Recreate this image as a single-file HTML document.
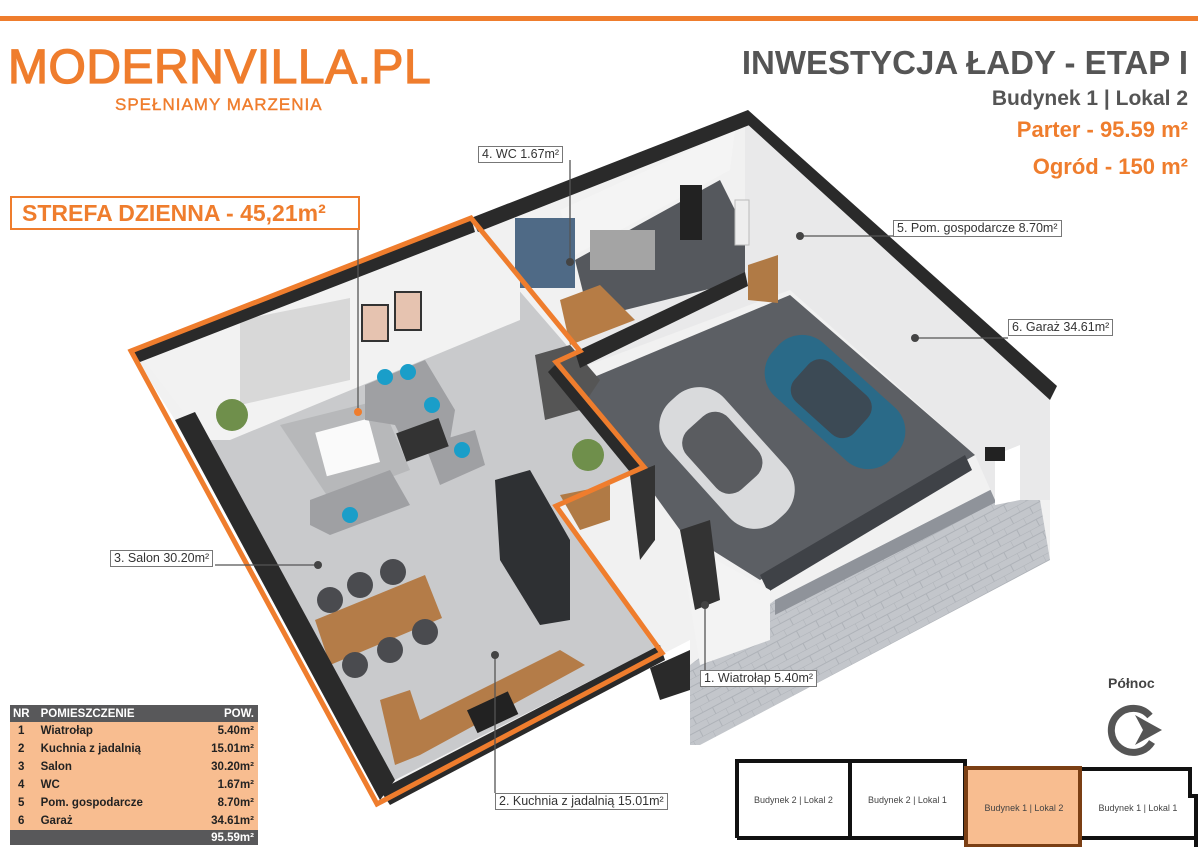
<!DOCTYPE html>
<html><head><meta charset="utf-8">
<style>
body{margin:0;width:1198px;height:847px;background:#fff;overflow:hidden;position:relative;font-family:"Liberation Sans",sans-serif}
.a{position:absolute;white-space:nowrap}
.lbl{position:absolute;border:1px solid #777;background:#fff;font-size:12.5px;color:#333;padding:0 3px;line-height:15px;white-space:nowrap}
table{border-collapse:collapse}
</style></head><body>
<div class="a" style="left:0;top:16px;width:1198px;height:5px;background:#ef7d2d"></div>
<div class="a" style="left:8px;top:40px;font-size:48px;color:#ef7d2d;letter-spacing:0.5px;-webkit-text-stroke:1.3px #ef7d2d">MODERNVILLA.PL</div>
<div class="a" style="left:115px;top:95px;font-size:17px;color:#ef7d2d;letter-spacing:1px;-webkit-text-stroke:0.4px #ef7d2d">SPEŁNIAMY MARZENIA</div>
<div class="a" style="right:10px;top:44px;font-size:33px;color:#555;font-weight:bold">INWESTYCJA ŁADY - ETAP I</div>
<div class="a" style="right:10px;top:87px;font-size:21px;color:#555;font-weight:bold">Budynek 1 | Lokal 2</div>
<div class="a" style="right:10px;top:117px;font-size:22px;color:#ef7d2d;font-weight:bold">Parter - 95.59 m²</div>
<div class="a" style="right:10px;top:154px;font-size:22px;color:#ef7d2d;font-weight:bold">Ogród - 150 m²</div>

<svg class="a" style="left:0;top:0" width="1198" height="847">
<defs><pattern id="pv" width="22" height="14" patternUnits="userSpaceOnUse" patternTransform="rotate(-28)"><rect width="22" height="14" fill="#c3c6cb"/><path d="M0,0H22M0,7H22M0,0V7M11,7V14" stroke="#aeb2b8" stroke-width="1"/></pattern></defs>
<polygon points="175,420 380,800 690,640 690,745 1050,560 1050,390 748,110 471,218 131,351" fill="#f1f1f1"/>
<polygon points="690,745 690,665 775,600 1000,485 1040,500 1050,560 700,745" fill="url(#pv)"/>
<polygon points="775,600 1000,485 1000,500 775,615" fill="#8f939a"/>
<polygon points="745,118 1050,395 1050,500 995,500 975,455 790,290 575,370 560,350 745,230" fill="#e9e9ea"/>
<polygon points="575,385 790,295 975,455 760,580 680,530" fill="#5c5f64"/>
<polygon points="760,575 965,455 972,470 768,592" fill="#3f4247"/>
<polygon points="995,455 1020,445 1020,500 995,505" fill="#fff"/>
<rect x="985" y="447" width="20" height="14" fill="#222"/>
<polygon points="680,540 770,590 770,640 700,665" fill="#f3f3f3"/>
<polygon points="575,260 720,180 745,230 745,280 625,310 590,320" fill="#55585d"/>
<polygon points="575,255 730,170 735,130 560,210" fill="#f4f4f4"/>
<rect x="515" y="218" width="60" height="70" fill="#4f6a86"/>
<rect x="590" y="230" width="65" height="40" fill="#a4a4a4"/>
<rect x="680" y="185" width="22" height="55" fill="#222"/>
<rect x="735" y="200" width="14" height="45" fill="#eee" stroke="#bbb"/>
<polygon points="748,265 778,255 778,303 748,300" fill="#b07a45"/>
<polygon points="560,300 600,285 635,320 570,345" fill="#b67c45"/>
<polygon points="190,415 471,235 575,355 550,368 635,470 555,505 655,648 385,785" fill="#c9cacc"/>
<polygon points="140,355 471,228 520,280 520,320 230,440 205,440" fill="#f2f2f2"/>
<polygon points="240,320 350,298 350,380 240,405" fill="#d8d8d8"/>
<rect x="362" y="305" width="26" height="36" fill="#e6c3b0" stroke="#333" stroke-width="2"/>
<rect x="395" y="292" width="26" height="38" fill="#e6c3b0" stroke="#333" stroke-width="2"/>
<polygon points="280,425 380,400 410,470 330,500" fill="#b7b8ba"/>
<rect x="320" y="425" width="55" height="45" fill="#fafafa" transform="rotate(-15 347 447)"/>
<polygon points="365,385 425,360 455,410 450,440 410,455 395,425 365,420" fill="#9fa0a3"/>
<polygon points="425,445 475,430 485,465 440,485" fill="#9fa0a3"/>
<polygon points="310,500 390,470 410,505 330,535 310,525" fill="#9fa0a3"/>
<rect x="400" y="425" width="45" height="30" fill="#333" transform="rotate(-20 422 440)"/>
<circle cx="385" cy="377" r="8" fill="#1a9ec9"/><circle cx="408" cy="372" r="8" fill="#1a9ec9"/><circle cx="432" cy="405" r="8" fill="#1a9ec9"/><circle cx="462" cy="450" r="8" fill="#1a9ec9"/><circle cx="350" cy="515" r="8" fill="#1a9ec9"/>
<polygon points="315,620 425,575 442,618 330,665" fill="#b47c48"/>
<g fill="#4a4b4f"><circle cx="330" cy="600" r="13"/><circle cx="360" cy="585" r="13"/><circle cx="393" cy="572" r="13"/><circle cx="355" cy="665" r="13"/><circle cx="390" cy="650" r="13"/><circle cx="425" cy="632" r="13"/></g>
<circle cx="232" cy="415" r="16" fill="#6f8f4b"/><circle cx="588" cy="455" r="16" fill="#6f8f4b"/>
<polygon points="495,480 530,470 570,540 570,620 540,625 500,560" fill="#2e3033"/>
<polygon points="380,700 410,690 420,720 560,650 585,665 420,755 395,765" fill="#b47c48"/>
<rect x="470" y="700" width="45" height="25" fill="#222" transform="rotate(-25 492 712)"/>
<polygon points="535,355 570,345 600,380 580,410 545,420" fill="#555"/>
<polygon points="560,495 610,485 610,520 580,530" fill="#b07a45"/>
<polygon points="630,475 655,465 655,540 640,560" fill="#333"/>
<polygon points="680,530 710,520 720,600 695,610" fill="#333"/>
<polygon points="131,351 471,218 475,232 140,362" fill="#2a2a2a"/>
<polygon points="471,218 748,110 752,124 478,232" fill="#2a2a2a"/>
<polygon points="748,110 1057,386 1050,400 745,122" fill="#2a2a2a"/>
<polygon points="175,420 195,412 395,780 380,800" fill="#2a2a2a"/>
<polygon points="380,790 660,645 665,660 390,805" fill="#2a2a2a"/>
<polygon points="575,352 745,272 748,286 580,368" fill="#2a2a2a"/>
<polygon points="555,365 640,465 630,472 548,372" fill="#2a2a2a"/>
<polygon points="650,668 690,650 690,690 660,700" fill="#2a2a2a"/>
<polygon points="131,351 471,218 580,351 556,362 644,467 556,506 662,653 377,804" fill="none" stroke="#ef7d2d" stroke-width="5"/>
<g transform="rotate(48 727 458)"><rect x="647" y="420" width="160" height="76" rx="34" fill="#d9dadc"/><rect x="680" y="430" width="80" height="56" rx="18" fill="#5a5c60"/></g>
<g transform="rotate(42 835 402)"><rect x="755" y="366" width="160" height="72" rx="32" fill="#2a6a88"/><rect x="790" y="376" width="80" height="52" rx="16" fill="#3c4a55"/></g>
<g stroke="#555" stroke-width="1.3" fill="none">
<line x1="570" y1="160" x2="570" y2="262"/><line x1="800" y1="236" x2="893" y2="236"/><line x1="915" y1="338" x2="1008" y2="338"/>
<line x1="215" y1="565" x2="318" y2="565"/><line x1="358" y1="228" x2="358" y2="412"/><line x1="495" y1="655" x2="495" y2="793"/>
<line x1="705" y1="605" x2="705" y2="670"/>
</g>
<g fill="#444"><circle cx="570" cy="262" r="4"/><circle cx="800" cy="236" r="4"/><circle cx="915" cy="338" r="4"/><circle cx="318" cy="565" r="4"/><circle cx="358" cy="412" r="4" fill="#ef7d2d"/><circle cx="495" cy="655" r="4"/><circle cx="705" cy="605" r="4"/></g>
<path d="M1150,716 A22,22 0 1 0 1152,742" fill="none" stroke="#555" stroke-width="7"/>
<polygon points="1135,715 1162,730 1135,745 1143,730" fill="#555"/>
<path d="M737,838 V761 H965 V838" fill="none" stroke="#111" stroke-width="4"/>
<line x1="850" y1="761" x2="850" y2="838" stroke="#111" stroke-width="4"/>
<line x1="737" y1="838" x2="965" y2="838" stroke="#111" stroke-width="4"/>
<rect x="966" y="768" width="114" height="78" fill="#f8bd90" stroke="#7b3f14" stroke-width="4"/>
<path d="M1082,769 H1190 V796 H1196 V847 M1082,838 H1196" fill="none" stroke="#111" stroke-width="4"/>
</svg>

<div class="a" style="left:10px;top:196px;background:#fff;border:2px solid #ef7d2d;color:#ef7d2d;font-weight:bold;font-size:23px;line-height:30px;padding-left:10px;box-sizing:border-box;width:350px;height:34px">STREFA DZIENNA - 45,21m²</div>
<div class="lbl" style="left:478px;top:146px">4. WC 1.67m²</div>
<div class="lbl" style="left:893px;top:220px">5. Pom. gospodarcze 8.70m²</div>
<div class="lbl" style="left:1008px;top:319px">6. Garaż 34.61m²</div>
<div class="lbl" style="left:110px;top:550px">3. Salon 30.20m²</div>
<div class="lbl" style="left:700px;top:670px">1. Wiatrołap 5.40m²</div>
<div class="lbl" style="left:495px;top:793px">2. Kuchnia z jadalnią 15.01m²</div>
<div class="a" style="left:1108px;top:675px;font-size:14px;font-weight:bold;color:#444">Północ</div>
<div class="a" style="left:737px;top:795px;width:113px;text-align:center;font-size:9px;color:#444">Budynek 2 | Lokal 2</div>
<div class="a" style="left:850px;top:795px;width:115px;text-align:center;font-size:9px;color:#444">Budynek 2 | Lokal 1</div>
<div class="a" style="left:966px;top:803px;width:116px;text-align:center;font-size:9px;color:#444">Budynek 1 | Lokal 2</div>
<div class="a" style="left:1082px;top:803px;width:112px;text-align:center;font-size:9px;color:#444">Budynek 1 | Lokal 1</div>

<table class="a" style="left:10px;top:705px;width:248px;font-size:11.5px;font-weight:bold;color:#222">
<tr style="background:#58585a;color:#fff;height:17px"><td style="padding-left:3px">NR</td><td>POMIESZCZENIE</td><td style="text-align:right;padding-right:4px">POW.</td></tr>
<tr style="background:#f8bd90;height:18px"><td style="padding-left:8px">1</td><td>Wiatrołap</td><td style="text-align:right;padding-right:4px">5.40m²</td></tr>
<tr style="background:#f8bd90;height:18px"><td style="padding-left:8px">2</td><td>Kuchnia z jadalnią</td><td style="text-align:right;padding-right:4px">15.01m²</td></tr>
<tr style="background:#f8bd90;height:18px"><td style="padding-left:8px">3</td><td>Salon</td><td style="text-align:right;padding-right:4px">30.20m²</td></tr>
<tr style="background:#f8bd90;height:18px"><td style="padding-left:8px">4</td><td>WC</td><td style="text-align:right;padding-right:4px">1.67m²</td></tr>
<tr style="background:#f8bd90;height:18px"><td style="padding-left:8px">5</td><td>Pom. gospodarcze</td><td style="text-align:right;padding-right:4px">8.70m²</td></tr>
<tr style="background:#f8bd90;height:18px"><td style="padding-left:8px">6</td><td>Garaż</td><td style="text-align:right;padding-right:4px">34.61m²</td></tr>
<tr style="background:#58585a;color:#fff;height:15px"><td></td><td></td><td style="text-align:right;padding-right:4px">95.59m²</td></tr>
</table>
</body></html>
